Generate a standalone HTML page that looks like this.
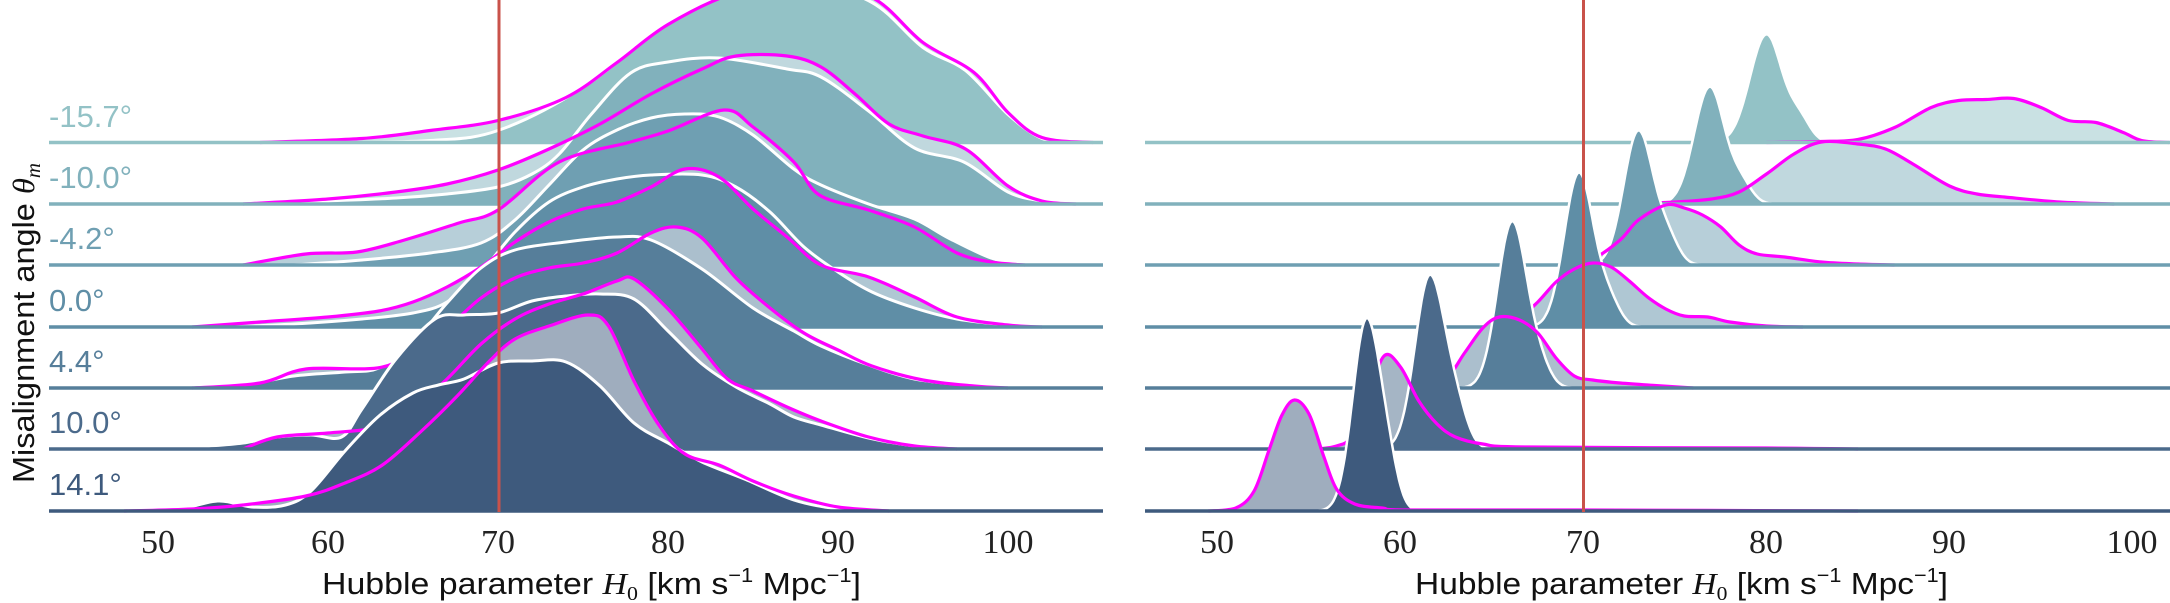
<!DOCTYPE html>
<html><head><meta charset="utf-8">
<style>
html,body{margin:0;padding:0;background:#fff;}
svg{display:block;}
</style></head>
<body>
<svg id="s" width="2170" height="603" viewBox="0 0 2170 603" xmlns="http://www.w3.org/2000/svg">
<defs>
<clipPath id="cl"><rect x="49" y="0" width="1054" height="520"/></clipPath>
<clipPath id="cr"><rect x="1145" y="0" width="1025" height="520"/></clipPath>
</defs>
<g id="gl" clip-path="url(#cl)"></g>
<g id="gr" clip-path="url(#cr)"></g>
<line x1="499" y1="0" x2="499" y2="512" stroke="#c9524a" stroke-width="3"/>
<line x1="1583.5" y1="0" x2="1583.5" y2="512" stroke="#c9524a" stroke-width="3"/>
<g font-family="'Liberation Sans', sans-serif" font-size="31">
<text x="49" y="127" fill="#93c2c6">-15.7°</text>
<text x="49" y="188" fill="#81b1bc">-10.0°</text>
<text x="49" y="249" fill="#6f9fb2">-4.2°</text>
<text x="49" y="311" fill="#5f8ea6">0.0°</text>
<text x="49" y="372" fill="#567e9a">4.4°</text>
<text x="49" y="433" fill="#4b6a8b">10.0°</text>
<text x="49" y="495" fill="#3e5a7d">14.1°</text>
</g>
<g font-family="'Liberation Serif', serif" font-size="34" fill="#222" text-anchor="middle">
<text x="158" y="553">50</text><text x="328" y="553">60</text><text x="498" y="553">70</text>
<text x="668" y="553">80</text><text x="838" y="553">90</text><text x="1008" y="553">100</text>
<text x="1217" y="553">50</text><text x="1400" y="553">60</text><text x="1583" y="553">70</text>
<text x="1766" y="553">80</text><text x="1949" y="553">90</text><text x="2132" y="553">100</text>
</g>
<g font-family="'Liberation Sans', sans-serif" font-size="31" fill="#111">
<text x="322" y="594" textLength="539" lengthAdjust="spacingAndGlyphs">Hubble parameter <tspan font-family="'Liberation Serif', serif" font-style="italic">H</tspan><tspan font-family="'Liberation Serif', serif" font-size="20" dy="6">0</tspan><tspan dy="-6"> [km s</tspan><tspan font-size="20" dy="-12">−1</tspan><tspan dy="12"> Mpc</tspan><tspan font-size="20" dy="-12">−1</tspan><tspan dy="12">]</tspan></text>
<text x="1415" y="594" textLength="533" lengthAdjust="spacingAndGlyphs">Hubble parameter <tspan font-family="'Liberation Serif', serif" font-style="italic">H</tspan><tspan font-family="'Liberation Serif', serif" font-size="20" dy="6">0</tspan><tspan dy="-6"> [km s</tspan><tspan font-size="20" dy="-12">−1</tspan><tspan dy="12"> Mpc</tspan><tspan font-size="20" dy="-12">−1</tspan><tspan dy="12">]</tspan></text>
<text transform="translate(34,483) rotate(-90)" x="0" y="0" textLength="320" lengthAdjust="spacingAndGlyphs">Misalignment angle <tspan font-family="'Liberation Serif', serif" font-style="italic">θ</tspan><tspan font-family="'Liberation Serif', serif" font-style="italic" font-size="20" dy="6">m</tspan></text>
</g>
</svg>
<script>
const NS="http://www.w3.org/2000/svg";
const L={x0:158,s:17.0}, R={x0:1217.5,s:18.3};
function X(p,h){return p.x0+(h-50)*p.s;}
function blend(c,a){const n=parseInt(c.slice(1),16);const r=n>>16,g=(n>>8)&255,b=n&255;
 const f=v=>Math.round(v*a+255*(1-a));return `rgb(${f(r)},${f(g)},${f(b)})`;}
function crPath(pts,base){
 let d=`M${pts[0][0].toFixed(1)},${pts[0][1].toFixed(1)}`;
 for(let i=0;i<pts.length-1;i++){
  const p0=pts[Math.max(i-1,0)],p1=pts[i],p2=pts[i+1],p3=pts[Math.min(i+2,pts.length-1)];
  let c1x=p1[0]+(p2[0]-p0[0])/6,c1y=p1[1]+(p2[1]-p0[1])/6;
  let c2x=p2[0]-(p3[0]-p1[0])/6,c2y=p2[1]-(p3[1]-p1[1])/6;
  c1y=Math.min(c1y,base);c2y=Math.min(c2y,base);
  d+=`C${c1x.toFixed(1)},${c1y.toFixed(1)} ${c2x.toFixed(1)},${c2y.toFixed(1)} ${p2[0].toFixed(1)},${p2[1].toFixed(1)}`;
 }
 return d;
}
function toScreen(p,pts,base){return pts.map(a=>[X(p,a[0]),base-a[1]]);}
function gaussPts(specs,lo,hi){const out=[];for(let h=lo;h<=hi+1e-9;h+=0.08){let v=0;
 for(const g of specs){const s=h<g[0]?g[2]:(g[3]||g[2]);v+=g[1]*Math.exp(-0.5*((h-g[0])/s)**2);}
 out.push([h,v]);}return out;}
function linePath(pts){return "M"+pts.map(a=>a[0].toFixed(1)+","+a[1].toFixed(1)).join("L");}
function add(g,tag,attrs){const e=document.createElementNS(NS,tag);for(const k in attrs)e.setAttribute(k,attrs[k]);g.appendChild(e);}

const rows=[
{b:142.5,c:"#93c2c6",
 w:[[60,0],[66,2],[70,12],[75,55],[80,120],[84,150],[88,160],[92,140],[95,95],[97.5,72],[100,28],[102,4],[104,0]],
 m:[[56,0],[62,4],[66,12],[70,22],[74,45],[77,80],[80,118],[84,150],[88,160],[92,145],[95,100],[98,70],[100,30],[102,5],[105,0]],
 rd:[[80,108,0.9,0.85],[81.8,22,0.6]],rdr:[76,85],
 rm:[[80,0],[83,1],[85,3],[87,15],[89,35],[90.5,42],[92,43],[93.5,44],[95,35],[96.5,22],[98,20],[99.5,10],[100.5,2],[102,0]]},
{b:204,c:"#81b1bc",
 w:[[56,0],[60,3],[64,6],[67,10],[70,17],[72,30],[73.6,50],[75.5,90],[77.8,131],[80,142],[83,146],[87,135],[89,127],[91.8,93],[94.5,56],[97.4,42],[100,12],[102,3],[104,0]],
 m:[[55,0],[60,5],[64,12],[67,20],[70,34],[73,55],[76,80],[79,110],[82,135],[84,148],[87,148],[89,137],[91,110],[93,80],[95,68],[97.5,55],[100,18],[102,3],[104,0]],
 rd:[[76.9,117,0.85,0.8],[78.6,20,0.6]],rdr:[73,82],
 rm:[[72,0],[75,2],[77,5],[78.5,12],[80,30],[81.5,50],[83,62],[85,60],[86.5,55],[88,40],[90,18],[91.5,10],[93,7],[96,2],[99,0]]},
{b:265,c:"#6f9fb2",
 w:[[58,0],[62,5],[66,12],[69,22],[71,45],[73,80],[75,115],[77,135],[79,147],[81,151],[83,148],[85,130],[87.4,96],[89,80],[91.8,61],[94.5,46],[96.5,27],[99,7],[101,0]],
 m:[[55,0],[58.7,11],[61.7,13],[64.5,25],[67.7,42],[70,55],[73.6,103],[77.8,123],[80,134],[83.3,155],[85,138],[87.4,103],[88.9,70],[91.8,55],[94.5,38],[97,12],[99,3],[101,0]],
 rd:[[73.0,134,0.8,0.8],[74.6,25,0.6]],rdr:[69,78],
 rm:[[69,0],[70.5,6],[72,25],[73,45],[74.5,60],[75.5,57],[76.5,50],[77.5,38],[78.5,20],[79.5,11],[81,8],[83,3],[85,1],[87,0]]},
{b:327,c:"#5f8ea6",
 w:[[54,0],[58,3],[62,8],[65,14],[67,25],[69,55],[71,95],[73,125],[75,140],[77,148],[79,152],[82,152],[84,140],[86,115],[88,80],[90,55],[92,35],[94.5,19],[97,8],[100,2],[102,0]],
 m:[[52,0],[56,5],[60,10],[63,16],[65,25],[67,40],[69,60],[71,85],[73,105],[75,118],[77,125],[79,140],[81,158],[83,150],[85,118],[87,90],[89,62],[91.8,50],[94.5,30],[97,10],[100,2],[102,0]],
 rd:[[69.75,154,0.8,0.8],[71.4,24,0.6]],rdr:[66,75],
 rm:[[65,0],[66.5,10],[67.5,25],[68.5,45],[69.5,58],[70.5,64],[71.5,60],[72.5,46],[73.5,30],[74.5,18],[75.5,11],[76.8,10],[78,5],[80,1],[82,0]]},
{b:388,c:"#567e9a",
 w:[[52,0],[55,3],[58,12],[61,16],[63,20],[65,45],[67,85],[69,120],[71,138],[74,146],[77,151],[79,148],[82,119],[85,80],[87.4,57],[89,42],[91.8,23],[94.5,9],[97.5,3],[100,0]],
 m:[[52,0],[56,5],[58.7,19],[62.9,20],[65,36],[67,60],[69,90],[71,110],[73,120],[75,125],[77,135],[79,155],[80.5,161],[82,150],[84,110],[86,80],[88,55],[90,38],[92,22],[95,8],[98,2],[100,0]],
 rd:[[66.1,166,0.8,0.8],[67.6,20,0.6]],rdr:[62,71],
 rm:[[61,0],[62.5,10],[63.5,35],[64.5,60],[65.4,71],[66.5,68],[67.5,55],[68.5,30],[69.5,12],[70.5,8],[72,5],[73.5,3],[76,0]]},
{b:449,c:"#4b6a8b",
 w:[[50,0],[53,3],[55,6],[57,12],[59,14],[60.8,12],[62,40],[64,90],[66.3,130],[68,134],[70,136],[72,148],[74,153],[76,155],[78,150],[80,118],[82,85],[84,62],[86,45],[87.4,32],[89,24],[91.8,11],[94.5,3],[97,0]],
 m:[[55,0],[57,12],[60,16],[63,22],[65,40],[67,70],[69,105],[71,130],[73,145],[75,155],[77,168],[78,170],[80,140],[82,100],[83.5,70],[85,58],[87,42],[89,28],[91.8,12],[94.5,3],[97,0]],
 rd:[[61.6,173,0.8,0.85],[63.1,30,0.6]],rdr:[57,67],
 rm:[[55.5,0],[56.5,3],[57.3,12],[58.2,50],[59.1,93],[60,82],[61,48],[62,25],[63,12],[64.5,5],[67,2],[80,1],[85,0]]},
{b:511,c:"#3e5a7d",
 w:[[50,0],[51,0],[53.5,10],[55.5,4],[57.5,6],[59,20],[61,60],[63,95],[65,118],[66.5,126],[68,132],[70,148],[72,150],[74,149],[76,125],[78,88],[80,68],[82,49],[84.5,32],[87.4,11],[90,2],[92,0]],
 m:[[48,0],[52,2],[55,6],[58.7,15],[61,28],[63.2,46],[65.5,80],[67.6,115],[69.5,150],[71,172],[73,185],[75.3,196],[76.5,185],[78,130],[79.5,85],[81,57],[83,46],[85,30],[87.4,15],[90,4],[93,0]],
 rd:[[58.15,192,0.75,0.8],[59.4,25,0.5]],rdr:[54,63],
 rm:[[49.5,0],[51,3],[52,20],[52.8,60],[53.5,95],[54.2,111],[55,97],[55.8,55],[56.5,22],[57.5,7],[59,3],[60.5,1],[70,1],[85,0]]}
];
const gl=document.getElementById("gl"),gr=document.getElementById("gr");
for(const r of rows){
 const light=blend(r.c,0.5);
 let m=toScreen(L,r.m,r.b), w=toScreen(L,r.w,r.b);
 let dm=crPath(m,r.b), dw=crPath(w,r.b);
 add(gl,"path",{d:dm+`L${m[m.length-1][0]},${r.b}L${m[0][0]},${r.b}Z`,fill:light});
 add(gl,"path",{d:dw+`L${w[w.length-1][0]},${r.b}L${w[0][0]},${r.b}Z`,fill:r.c});
 add(gl,"path",{d:dw,fill:"none",stroke:"#fff","stroke-width":3});
 add(gl,"path",{d:dm,fill:"none",stroke:"#ff00ff","stroke-width":3.2});
 add(gl,"line",{x1:49,x2:1103,y1:r.b,y2:r.b,stroke:r.c,"stroke-width":3.5});
 let rm=toScreen(R,r.rm,r.b); let drm=crPath(rm,r.b);
 let rd=gaussPts(r.rd,r.rdr[0],r.rdr[1]).map(a=>[X(R,a[0]),r.b-a[1]]);
 let drd=linePath(rd);
 add(gr,"path",{d:drm+`L${rm[rm.length-1][0]},${r.b}L${rm[0][0]},${r.b}Z`,fill:light});
 add(gr,"path",{d:drd+`L${rd[rd.length-1][0]},${r.b}L${rd[0][0]},${r.b}Z`,fill:r.c});
 add(gr,"path",{d:drd,fill:"none",stroke:"#fff","stroke-width":2.5});
 add(gr,"path",{d:drm,fill:"none",stroke:"#ff00ff","stroke-width":3.2});
 add(gr,"line",{x1:1145,x2:2170,y1:r.b,y2:r.b,stroke:r.c,"stroke-width":3.5});
}
</script>
</body></html>
